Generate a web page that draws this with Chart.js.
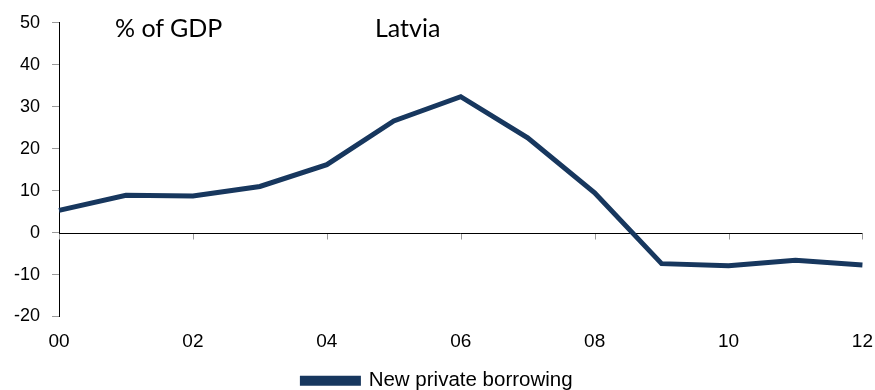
<!DOCTYPE html>
<html>
<head>
<meta charset="utf-8">
<script src="https://cdn.jsdelivr.net/npm/chart.js@4.4.0/dist/chart.umd.min.js"></script>
<style>
  html, body { margin: 0; padding: 0; background: #fff; }
  #wrap { position: relative; width: 875px; height: 390px; }
  .note { position: absolute; font-family: Lato, "Open Sans", sans-serif; font-size: 25px; color: #000; line-height: 1; }
</style>
</head>
<body>
<div id="wrap">
  <canvas id="chart" width="875" height="390"></canvas>
  <div class="note" style="left:115px; top:15px;">% of GDP</div>
  <div class="note" style="left:375px; top:15px;">Latvia</div>
</div>
<script>
const years = ['00', '01', '02', '03', '04', '05', '06', '07', '08', '09', '10', '11', '12'];
const borrowing = [5.3, 8.9, 8.7, 11.0, 16.2, 26.6, 32.4, 22.6, 9.5, -7.4, -7.9, -6.6, -7.7];
const yTicks = { min: -20, max: 50, step: 10 };

const navy = '#17375e';
const family = '"Liberation Sans", Arial, sans-serif';

// zero line with the little ticks hanging under it
const zeroAxis = {
  id: 'zeroAxis',
  beforeDatasetsDraw(chart) {
    const { ctx, chartArea, scales } = chart;
    const y0 = Math.round(scales.y.getPixelForValue(0)) + 0.5;
    ctx.save();
    ctx.strokeStyle = '#999';
    ctx.lineWidth = 1;
    years.forEach((lbl, i) => {
      if (i % 2) return;
      const x = Math.round(scales.x.getPixelForValue(i)) + 0.5;
      ctx.beginPath();
      ctx.moveTo(x, y0);
      ctx.lineTo(x, y0 + 6);
      ctx.stroke();
    });
    ctx.strokeStyle = '#000';
    ctx.beginPath();
    ctx.moveTo(chartArea.left, y0);
    ctx.lineTo(chartArea.right, y0);
    ctx.stroke();
    ctx.restore();
  }
};

new Chart(document.getElementById('chart'), {
  type: 'line',
  data: {
    labels: years,
    datasets: [{
      label: 'New private borrowing',
      data: borrowing,
      borderColor: navy,
      backgroundColor: navy,
      borderWidth: 5,
      pointRadius: 0,
      tension: 0,
      fill: false
    }]
  },
  options: {
    responsive: false,
    animation: false,
    layout: { padding: { left: 2, right: 2, top: 12, bottom: -11 } },
    scales: {
      x: {
        type: 'category',
        offset: false,
        grid: { display: false, tickLength: 12 },
        border: { display: false },
        ticks: {
          autoSkip: false,
          maxRotation: 0,
          padding: 2,
          color: '#000',
          font: { family: family, size: 19 },
          callback: (v, i) => (i % 2 === 0 ? years[i] : '')
        }
      },
      y: {
        min: yTicks.min,
        max: yTicks.max,
        grid: { drawOnChartArea: false, tickLength: 7, color: '#999' },
        border: { display: true, color: '#000', width: 1 },
        ticks: { stepSize: yTicks.step, padding: 12, color: '#000', font: { family: family, size: 18 } }
      }
    },
    plugins: {
      legend: {
        position: 'bottom',
        title: { display: true, text: '', font: { size: 1 }, padding: { top: 0, bottom: 12 } },
        labels: {
          boxWidth: 56,
          boxHeight: 5,
          color: '#000',
          font: { family: family, size: 20.5 },
          padding: 2
        }
      },
      tooltip: { enabled: false }
    }
  },
  plugins: [zeroAxis]
});
</script>
</body>
</html>
